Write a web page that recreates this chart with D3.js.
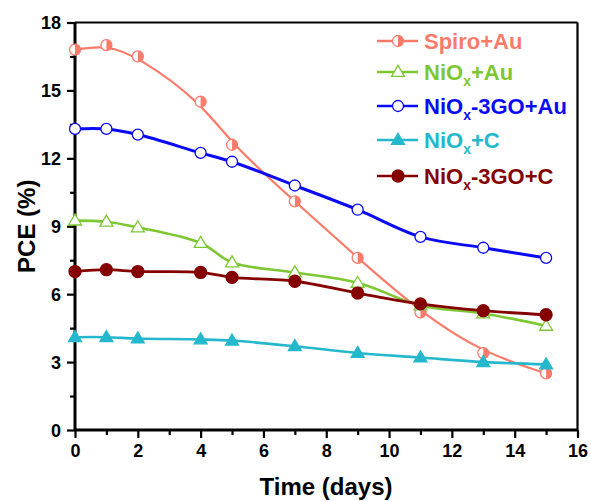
<!DOCTYPE html>
<html>
<head>
<meta charset="utf-8">
<script src="https://cdn.jsdelivr.net/npm/d3@7"></script>
<style>
  body { margin: 0; background: #fff; }
  svg { display: block; font-family: Arial, "Liberation Sans", sans-serif; font-weight: bold; }
</style>
</head>
<body>
<svg id="chart" width="591" height="501"></svg>
<script>
const days = [0, 1, 2, 4, 5, 7, 9, 11, 13, 15];
const spiroAu   = [16.8, 17.0, 16.5, 14.5, 12.6, 10.1, 7.6, 5.2, 3.4, 2.5];
const nioxAu    = [9.25, 9.2, 8.95, 8.26, 7.4, 6.96, 6.5, 5.5, 5.15, 4.6];
const nioxGOAu  = [13.3, 13.3, 13.05, 12.24, 11.85, 10.8, 9.73, 8.53, 8.05, 7.6];
const nioxC     = [4.1, 4.1, 4.04, 4.0, 3.95, 3.7, 3.4, 3.2, 3.0, 2.9];
const nioxGOC   = [7.0, 7.08, 7.0, 6.96, 6.74, 6.57, 6.05, 5.57, 5.27, 5.09];
const seriesNames = ["Spiro+Au", "NiOx+Au", "NiOx-3GO+Au", "NiOx+C", "NiOx-3GO+C"];
const xTicks = [0, 2, 4, 6, 8, 10, 12, 14, 16];
const yTicks = [0, 3, 6, 9, 12, 15, 18];

const series = [
  { name: seriesNames[0], values: spiroAu,  color: "#fb7b6b", marker: "half",  curve: d3.curveBasis, width: 2.2 },
  { name: seriesNames[1], values: nioxAu,   color: "#7dc832", marker: "triOpen", curve: d3.curveCatmullRom.alpha(0.5), width: 2.6 },
  { name: seriesNames[2], values: nioxGOAu, color: "#0a0af5", marker: "circOpen", curve: d3.curveCatmullRom.alpha(0.5), width: 3 },
  { name: seriesNames[3], values: nioxC,    color: "#25b8cc", marker: "triFill", curve: d3.curveCatmullRom.alpha(0.5), width: 2.6 },
  { name: seriesNames[4], values: nioxGOC,  color: "#850000", marker: "circFill", curve: d3.curveCatmullRom.alpha(0.5), width: 2.8 }
];

const svg = d3.select("#chart");
const x = d3.scaleLinear().domain([0, 16]).range([75, 577.5]);
const y = d3.scaleLinear().domain([0, 18]).range([430, 22.5]);

// frame top/right
svg.append("line").attr("x1", x(0)).attr("x2", x(16)).attr("y1", y(18)).attr("y2", y(18))
  .attr("stroke", "#000").attr("stroke-width", 2.2);
svg.append("line").attr("x1", x(16)).attr("x2", x(16)).attr("y1", y(18)).attr("y2", y(0))
  .attr("stroke", "#000").attr("stroke-width", 2.2);

// minor ticks
const gx = svg.append("g").attr("transform", `translate(0,${y(0)})`);
gx.call(d3.axisBottom(x).tickValues(d3.range(1, 16, 2)).tickSize(5).tickFormat(""));
const gxm = svg.append("g").attr("transform", `translate(0,${y(0)})`);
gxm.call(d3.axisBottom(x).tickValues(xTicks).tickSize(8).tickPadding(6).tickFormat(d3.format("d")));
const gy = svg.append("g").attr("transform", `translate(${x(0)},0)`);
gy.call(d3.axisLeft(y).tickValues(d3.range(1.5, 18, 3)).tickSize(5).tickFormat(""));
const gym = svg.append("g").attr("transform", `translate(${x(0)},0)`);
gym.call(d3.axisLeft(y).tickValues(yTicks).tickSize(8).tickPadding(6).tickFormat(d3.format("d")));

svg.selectAll(".domain").attr("stroke", "#000").attr("stroke-width", 3);
svg.selectAll(".tick line").attr("stroke", "#000").attr("stroke-width", 2.2);
svg.selectAll(".tick text").attr("font-size", 18).attr("font-weight", "bold").attr("fill", "#000")
  .attr("font-family", "Arial, 'Liberation Sans', sans-serif");
gym.selectAll(".tick text").attr("dy", "0.34em");
gxm.selectAll(".tick text").attr("dy", "0.72em");
gx.select(".domain").remove();
gy.select(".domain").remove();
gxm.select(".domain").attr("d", `M${x(0)},0H${x(16)}`);
gym.select(".domain").attr("d", `M0,${y(0)}V${y(18)}`);

// axis titles
svg.append("text").attr("x", 326).attr("y", 495).attr("text-anchor", "middle")
  .attr("font-size", 24).text("Time (days)");
svg.append("text").attr("transform", `translate(35,${(y(0)+y(18))/2}) rotate(-90)`)
  .attr("text-anchor", "middle").attr("font-size", 24).text("PCE (%)");

// lines
const lineGen = (curve) => d3.line().x((d, i) => x(days[i])).y(d => y(d)).curve(curve);
const plot = svg.append("g");
series.forEach(s => {
  plot.append("path").attr("d", lineGen(s.curve)(s.values))
    .attr("fill", "none").attr("stroke", s.color).attr("stroke-width", s.width);
});

function drawMarker(g, type, color, cx, cy) {
  const r = 5.5;
  if (type === "half") {
    g.append("circle").attr("cx", cx).attr("cy", cy).attr("r", r)
      .attr("fill", "#fff").attr("stroke", color).attr("stroke-width", 1.3);
    g.append("path").attr("d", `M${cx},${cy - r}A${r},${r} 0 0 1 ${cx},${cy + r}Z`).attr("fill", color);
  } else if (type === "circOpen" || type === "circFill") {
    g.append("circle").attr("cx", cx).attr("cy", cy).attr("r", type === "circFill" ? 6 : r)
      .attr("fill", type === "circFill" ? color : "#fff").attr("stroke", color).attr("stroke-width", 1.3);
  } else {
    const h = 11, w = 13;
    g.append("path").attr("d", `M${cx},${cy - h * 0.6}L${cx + w / 2},${cy + h * 0.4}L${cx - w / 2},${cy + h * 0.4}Z`)
      .attr("fill", type === "triFill" ? color : "#fff").attr("stroke", color).attr("stroke-width", 1.3);
  }
}

series.forEach(s => {
  const g = plot.append("g");
  s.values.forEach((v, i) => drawMarker(g, s.marker, s.color, x(days[i]), y(v)));
});

// legend
const legendY = [41, 72, 106, 140, 176];
const legend = svg.append("g");
series.forEach((s, i) => {
  const ly = legendY[i];
  legend.append("line").attr("x1", 377).attr("x2", 418).attr("y1", ly).attr("y2", ly)
    .attr("stroke", s.color).attr("stroke-width", 2.6);
  drawMarker(legend, s.marker, s.color, 398, ly);
  const t = legend.append("text").attr("x", 424).attr("y", ly + 7.5).attr("font-size", 22).attr("fill", s.color);
  const name = s.name;
  if (name.startsWith("NiOx")) {
    t.append("tspan").text("NiO");
    t.append("tspan").attr("font-size", 14).attr("dy", 6).text("x");
    t.append("tspan").attr("dy", -6).text(name.slice(4));
  } else {
    t.text(name);
  }
});
</script>
</body>
</html>
